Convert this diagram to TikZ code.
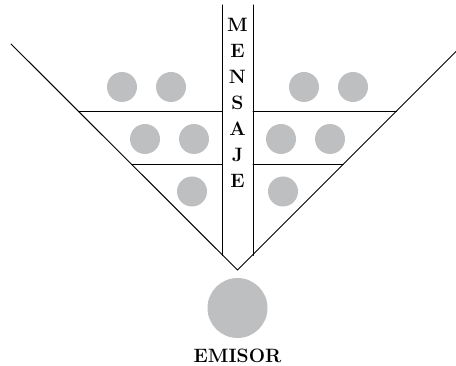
\documentclass[tikz,border=0pt]{standalone}
\usepackage{xcolor}
\usetikzlibrary{positioning}
\definecolor{dotgray}{RGB}{190,191,193}

\begin{document}
\begin{tikzpicture}[
  x=0.75pt, y=-0.75pt,
  line/.style={draw, line width=0.75pt, line cap=round},
  dot/.style={circle, fill=dotgray, inner sep=0pt, minimum size=22.5pt},
  bigdot/.style={circle, fill=dotgray, inner sep=0pt, minimum size=45pt},
  letter/.style={font=\bfseries\fontsize{14.5}{14.5}\selectfont, inner sep=0pt, anchor=center}
]
\useasboundingbox (0,0) rectangle (456,366);

% funnel
\coordinate (apex) at (237.5,270);
\coordinate (ltop) at (11,44);
\coordinate (rtop) at (456,51.5);
\draw[line] (ltop) -- (apex) -- (rtop);

% channel
\coordinate (cl top) at (222,5);
\coordinate (cl bot) at (222,255.5);
\coordinate (cr top) at (253,5);
\coordinate (cr bot) at (253,255.5);
\draw[line] (cl top) -- (cl bot);
\draw[line] (cr top) -- (cr bot);

% shelves
\coordinate (l1) at (78.5,111.5);
\coordinate (l1e) at (222,111.5);
\coordinate (l2) at (132,165);
\coordinate (l2e) at (222,165);
\coordinate (r1) at (396.5,111.5);
\coordinate (r1e) at (253,111.5);
\coordinate (r2) at (343,165);
\coordinate (r2e) at (253,165);
\draw[line] (l1) -- (l1e);
\draw[line] (l2) -- (l2e);
\draw[line] (r1) -- (r1e);
\draw[line] (r2) -- (r2e);

% receivers
\node[dot] (la) at (122,87) {};
\node[dot] (lb) at (171,87) {};
\node[dot] (lc) at (145,139) {};
\node[dot] (ld) at (194,139) {};
\node[dot] (le) at (192,191.5) {};
\node[dot] (ra) at (353,87) {};
\node[dot] (rb) at (304,87) {};
\node[dot] (rc) at (330,139) {};
\node[dot] (rd) at (281,139) {};
\node[dot] (re) at (283,191.5) {};

% message
\foreach \ch [count=\i] in {M,E,N,S,A,J,E}
  \node[letter] (msg\i) at (237.5,{25+26*(\i-1)}) {\ch};

% sender
\node[bigdot] (emisor) at (237.5,308) {};
\node[letter, below=8pt of emisor] (emisorlabel) {EMISOR};
\end{tikzpicture}
\end{document}
